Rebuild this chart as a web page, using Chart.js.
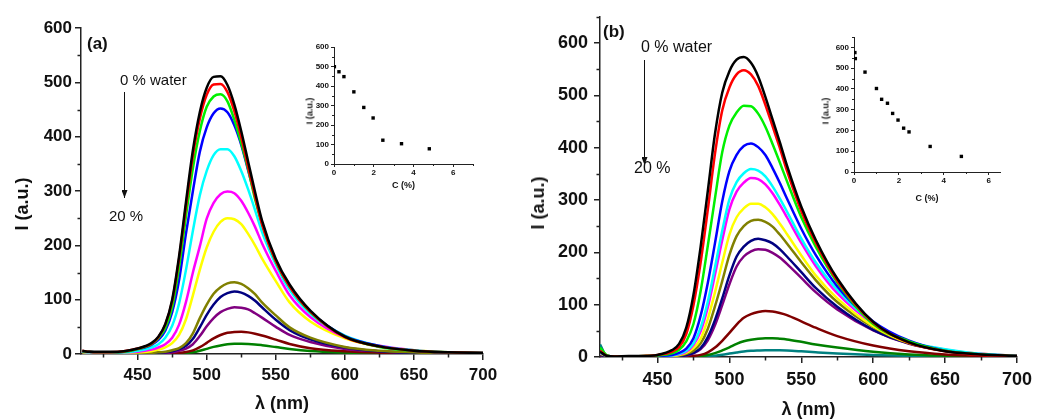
<!DOCTYPE html>
<html>
<head>
<meta charset="utf-8">
<script src="https://cdn.jsdelivr.net/npm/chart.js@4.4.1/dist/chart.umd.min.js"></script>
<style>
  body { margin: 0; background: #fff; width: 1038px; height: 419px; position: relative; overflow: hidden;
         font-family: "Liberation Sans", Arial, sans-serif; color: #111; }
  .box { position: absolute; }
  .note { position: absolute; white-space: nowrap; line-height: 1; }
  .ytitle { position: absolute; white-space: nowrap; line-height: 1; font-weight: bold;
            transform: translate(-50%, -50%) rotate(-90deg); }
</style>
</head>
<body>
<div class="box" style="left:0;top:0;width:519px;height:419px"><canvas id="mainA"></canvas></div>
<div class="box" style="left:519px;top:0;width:519px;height:419px"><canvas id="mainB"></canvas></div>
<div class="box" style="left:290px;top:30px;width:200px;height:175px"><canvas id="insetA"></canvas></div>
<div class="box" style="left:810px;top:20px;width:210px;height:200px"><canvas id="insetB"></canvas></div>

<div class="ytitle" style="left:22px;top:204px;font-size:18px">I (a.u.)</div>
<div class="ytitle" style="left:538px;top:203px;font-size:18px">I (a.u.)</div>
<div class="ytitle" style="left:310px;top:111px;font-size:9px">I (a.u.)</div>
<div class="ytitle" style="left:826px;top:111px;font-size:9px">I (a.u.)</div>

<div class="note" style="left:87px;top:35px;font-size:17px;font-weight:bold">(a)</div>
<div class="note" style="left:120px;top:72px;font-size:15px">0 % water</div>
<div class="note" style="left:109px;top:208px;font-size:15px">20 %</div>
<div class="note" style="left:603px;top:23px;font-size:17px;font-weight:bold">(b)</div>
<div class="note" style="left:641px;top:39px;font-size:16px">0 % water</div>
<div class="note" style="left:634px;top:160px;font-size:16px">20 %</div>

<!-- arrows from "0 % water" down to "20 %" -->
<svg class="box" style="left:0;top:0" width="1038" height="419">
  <defs>
    <marker id="head" markerWidth="8" markerHeight="6" refX="8" refY="3" orient="auto" markerUnits="userSpaceOnUse">
      <path d="M0,0 L8,3 L0,6 Z" fill="#111"/>
    </marker>
  </defs>
  <line x1="124.5" y1="92" x2="124.5" y2="198" stroke="#111" stroke-width="1" marker-end="url(#head)"/>
  <line x1="644.5" y1="60" x2="644.5" y2="165" stroke="#111" stroke-width="1" marker-end="url(#head)"/>
</svg>

<script>
// emission wavelengths (nm), shared by every spectrum
const wavelength = [410, 415, 420, 430, 440, 450, 460, 465, 470, 475, 480, 485, 490, 495, 500, 505,
                    510, 515, 520, 525, 530, 535, 540, 550, 560, 575, 600, 625, 650, 675, 700];

// panel (a): 0 % -> 20 % water
const aBlack   = [6,4,4,4,5,10,20,32,55,100,180,280,375,445,490,510,511,495,459,410,354,298,246,175,128,80,32,14,6,3,2];
const aRed     = [6,4,3,3,5,10,19,31,54,97,175,272,365,433,477,496,497,482,447,399,344,290,239,171,124,78,31,14,6,3,2];
const aGreen   = [5,4,3,3,4,9,18,29,48,86,160,254,342,410,455,474,478,465,431,388,340,285,240,170,124,77,32,13,6,3,2];
const aBlue    = [5,4,3,3,4,9,17,26,43,77,136,222,300,372,417,443,452,445,421,385,338,290,242,172,125,78,33,15,6,3,2];
const aCyan    = [4,3,3,3,3,6,12,18,30,52,93,155,227,292,337,366,377,377,364,337,303,265,225,165,118,74,34,15,7,3,2];
const aMagenta = [4,3,3,3,3,4,8,12,18,30,54,96,150,198,249,278,294,299,296,282,260,234,204,153,108,68,31,15,7,3,2];
const aYellow  = [3,2,2,2,2,3,5,8,12,20,35,64,108,155,196,225,243,250,248,239,221,200,176,134,95,60,29,14,7,3,2];
const aOlive   = [3,2,2,2,1,1,2,3,4,7,11,20,38,66,91,111,123,130,132,129,121,110,95,71,49,30,13,6,3,1,1];
const aNavy    = [3,2,2,2,1,1,2,2,3,5,9,15,28,49,72,91,105,112,115,113,107,98,86,63,44,27,12,5,2,1,1];
const aPurple  = [2,2,1,1,1,1,1,2,2,3,6,10,18,33,51,66,77,83,86,85,82,75,67,50,35,22,9,5,2,1,1];
const aMaroon  = [2,1.5,1,1,1,0.5,0.5,0.6,1,1.4,2.2,3.8,6.8,12.7,20.5,28.7,35,39,40.6,41,39.8,37.3,34,26.4,18.5,10.7,5.1,2.5,1.2,0.6,0.3];
const aDkGreen = [1.5,1,1,1,0.5,0.3,0.3,0.3,0.5,0.7,1.1,1.9,3.2,5.9,9.5,13.1,15.8,17.8,18.7,19,18.6,17.7,16.2,12.7,9.1,5.3,2.6,1.2,0.6,0.3,0.2];

// panel (b)
const bBlack   = [10,2,1,2,2,4,13,25,56,119,211,318,427,505,546,568,573,562,536,497,454,411,366,287,224,150,67,28,11,5,2];
const bRed     = [12,2,1,1,2,4,10,19,44,99,181,282,389,471,515,540,548,540,518,482,441,400,356,279,219,146,66,27,11,4,2];
const bGreen   = [18,3,1,1,2,3,7,14,30,63,126,213,304,391,442,467,480,479,465,440,407,372,336,267,211,143,63,30,12,5,2];
const bBlue    = [14,2,1,1,1,2,4,8,16,36,79,142,218,297,355,386,403,408,401,386,361,333,303,245,195,135,68,31,12,5,2];
const bCyan    = [9,2,1,1,1,2,3,6,12,26,56,106,172,241,301,334,351,359,356,345,326,303,278,226,181,128,66,30,15,6,2];
const bMagenta = [8,2,1,1,1,2,3,5,10,23,49,95,158,223,282,316,333,342,340,330,313,291,267,218,174,122,64,29,14,6,2];
const bYellow  = [7,2,1,1,1,1,2,4,8,17,35,73,124,180,234,267,284,293,293,286,273,255,235,194,156,112,59,27,13,6,2];
const bOlive   = [6,2,1,1,1,1,2,3,6,12,26,54,97,145,195,231,250,260,262,258,249,234,217,181,147,105,57,26,12,5,2];
const bNavy    = [5,1,1,1,1,1,1,2,4,8,17,38,71,112,156,192,211,222,226,223,217,206,192,162,132,96,52,26,12,5,2];
const bPurple  = [4,1,1,1,1,1,1,2,3,7,15,32,61,99,139,173,192,202,206,205,199,190,178,151,124,91,51,25,12,5,2];
const bMaroon  = [4,1,0.5,0.5,0.5,0.5,0.5,0.5,1,2,4,9,18,31,46,62,75,82,86,88,87,84,80,68,56,40,22,11,5,2,1];
const bDkGreen = [14,1,0.3,0.3,0.3,0.3,0.3,0.3,0.5,0.9,1.8,3.8,7.3,12.5,18.5,25,30,33,35,36,36,35,33.6,29,24,18,10,5,2.5,1,0.5];
const bTeal    = [24,1,0.2,0.2,0.2,0.2,0.2,0.2,0.2,0.3,0.6,1.2,2.5,4.3,6.5,8.7,10.7,11.9,12.5,12.9,12.9,12.7,12.3,10.8,9.1,6.8,4,2.1,1,0.4,0.2];

// insets: peak intensity vs concentration
const insetAConc = [0.02, 0.25, 0.5, 1.0, 1.5, 1.97, 2.46, 3.4, 4.8];
const insetAInt  = [499, 473, 448, 370, 290, 236, 122, 104, 78];
const insetBConc = [0.04, 0.06, 0.49, 1.0, 1.23, 1.49, 1.72, 1.96, 2.21, 2.45, 3.39, 4.78];
const insetBInt  = [575, 546, 481, 402, 350, 331, 282, 250, 211, 193, 123, 75];

// tick values
const xMajor = [450, 500, 550, 600, 650, 700];
const xMinor = [425, 475, 525, 575, 625, 675];
const yMajor = [0, 100, 200, 300, 400, 500, 600];
const yMinorA = [50, 150, 250, 350, 450, 550];
const yMinorB = [50, 150, 250, 350, 450, 550, 650];
const cMajor = [0, 2, 4, 6];
const cMinorA = [1, 3, 5, 7];
const cMinorB = [1, 3, 5];

const lineColors = ['#000000', '#ff0000', '#00f000', '#0000ff', '#00ffff', '#ff00ff', '#ffff00',
                    '#808000', '#000080', '#800080', '#800000', '#008000', '#008080'];
const axisColor = '#222';
const FONT = '"Liberation Sans", Arial, sans-serif';

// short extra ticks between the labelled ones
const minorTicks = {
  id: 'minorTicks',
  afterDatasetsDraw(chart, args, opts) {
    const { ctx, chartArea, scales } = chart;
    ctx.save();
    ctx.strokeStyle = axisColor;
    ctx.lineWidth = opts.lineWidth;
    ctx.beginPath();
    (opts.x || []).forEach(v => {
      const px = Math.round(scales.x.getPixelForValue(v)) + 0.5;
      ctx.moveTo(px, chartArea.bottom);
      ctx.lineTo(px, chartArea.bottom + opts.length);
    });
    (opts.y || []).forEach(v => {
      const py = Math.round(scales.y.getPixelForValue(v)) + 0.5;
      ctx.moveTo(chartArea.left - opts.length, py);
      ctx.lineTo(chartArea.left, py);
    });
    ctx.stroke();
    ctx.restore();
  }
};

function spectra(series) {
  return series.map((vals, i) => ({
    data: vals.map((v, j) => ({ x: wavelength[j], y: v })),
    borderColor: lineColors[i],
    borderWidth: 2.5,
    pointRadius: 0,
    cubicInterpolationMode: 'monotone',
    fill: false
  }));
}

function mainChart(id, series, opt) {
  return new Chart(document.getElementById(id), {
    type: 'line',
    data: { datasets: spectra(series) },
    plugins: [minorTicks],
    options: {
      responsive: true,
      maintainAspectRatio: false,
      animation: false,
      layout: { padding: { left: 0, top: opt.top, right: opt.right, bottom: 0 } },
      plugins: {
        legend: { display: false },
        tooltip: { enabled: false },
        minorTicks: { x: xMinor, y: opt.yMinor, length: 3.5, lineWidth: 1.5 }
      },
      scales: {
        x: {
          type: 'linear', min: opt.xMin, max: 700,
          afterBuildTicks: s => { s.ticks = xMajor.map(v => ({ value: v })); },
          afterFit: s => { s.height = opt.xHeight; },
          grid: { drawOnChartArea: false, tickLength: 6, color: axisColor, lineWidth: 1.5 },
          border: { display: true, color: axisColor, width: 1.5 },
          ticks: { font: { family: FONT, size: opt.font, weight: 'bold' }, color: '#111',
                   padding: opt.xPad, maxRotation: 0, autoSkip: false },
          title: { display: true, text: 'λ (nm)', color: '#111',
                   font: { family: FONT, size: 18, weight: 'bold', lineHeight: 1 },
                   padding: { top: 0, bottom: opt.titlePad } }
        },
        y: {
          min: 0, max: opt.yMax,
          afterBuildTicks: s => { s.ticks = yMajor.map(v => ({ value: v })); },
          afterFit: s => { s.width = 81; },
          grid: { drawOnChartArea: false, tickLength: 6, color: axisColor, lineWidth: 1.5 },
          border: { display: true, color: axisColor, width: 1.5 },
          ticks: { font: { family: FONT, size: opt.font, weight: 'bold' }, color: '#111', padding: opt.yPad }
        }
      }
    }
  });
}

function insetChart(id, conc, inten, opt) {
  return new Chart(document.getElementById(id), {
    type: 'scatter',
    data: { datasets: [{
      data: conc.map((c, i) => ({ x: c, y: inten[i] })),
      pointStyle: 'rect', pointRadius: 2.4, borderWidth: 0,
      backgroundColor: '#000'
    }] },
    plugins: [minorTicks],
    options: {
      responsive: true,
      maintainAspectRatio: false,
      animation: false,
      layout: { padding: { left: 0, top: 17, right: opt.right, bottom: 0 } },
      plugins: {
        legend: { display: false },
        tooltip: { enabled: false },
        minorTicks: { x: opt.xMinor, y: opt.yMinor, length: 2, lineWidth: 1 }
      },
      scales: {
        x: {
          type: 'linear', min: 0, max: opt.xMax,
          afterBuildTicks: s => { s.ticks = cMajor.map(v => ({ value: v })); },
          afterFit: s => { s.height = opt.xHeight; },
          grid: { drawOnChartArea: false, tickLength: 3, color: axisColor, lineWidth: 1 },
          border: { display: true, color: axisColor, width: 1 },
          ticks: { font: { family: FONT, size: 8, weight: 'bold' }, color: '#111', padding: 1, maxRotation: 0 },
          title: { display: true, text: 'C (%)', color: '#111',
                   font: { family: FONT, size: 9, weight: 'bold', lineHeight: 1 },
                   padding: { top: 0, bottom: opt.titlePad } }
        },
        y: {
          min: 0, max: opt.yMax,
          afterBuildTicks: s => { s.ticks = yMajor.map(v => ({ value: v })); },
          afterFit: s => { s.width = 44; },
          grid: { drawOnChartArea: false, tickLength: 3, color: axisColor, lineWidth: 1 },
          border: { display: true, color: axisColor, width: 1 },
          ticks: { font: { family: FONT, size: 8, weight: 'bold' }, color: '#111', padding: 2 }
        }
      }
    }
  });
}

mainChart('mainA',
  [aBlack, aRed, aGreen, aBlue, aCyan, aMagenta, aYellow, aOlive, aNavy, aPurple, aMaroon, aDkGreen],
  { xMin: 409, yMax: 600, top: 28, right: 36, xHeight: 65, font: 17, xPad: 5, yPad: 3, titlePad: 6, yMinor: yMinorA });

mainChart('mainB',
  [bBlack, bRed, bGreen, bBlue, bCyan, bMagenta, bYellow, bOlive, bNavy, bPurple, bMaroon, bDkGreen, bTeal],
  { xMin: 410, yMax: 650, top: 16, right: 17, xHeight: 62, font: 18, xPad: 6, yPad: 6, titlePad: 0, yMinor: yMinorB });

insetChart('insetA', insetAConc, insetAInt,
  { xMax: 7, yMax: 600, right: 17, xHeight: 41, titlePad: 15, xMinor: cMinorA, yMinor: yMinorA });

insetChart('insetB', insetBConc, insetBInt,
  { xMax: 6.5, yMax: 650, right: 20, xHeight: 48, titlePad: 17, xMinor: cMinorB, yMinor: yMinorB });
</script>
</body>
</html>
